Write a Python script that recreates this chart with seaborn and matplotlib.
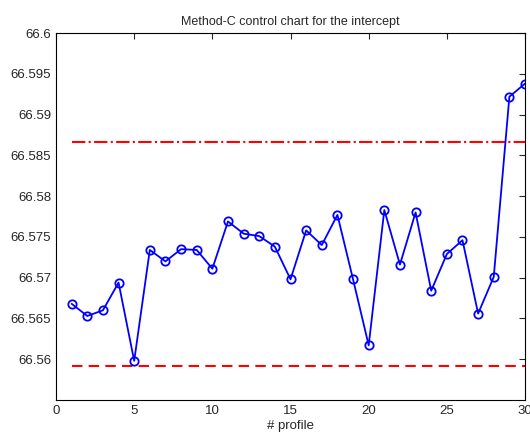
import matplotlib.pyplot as plt
import matplotlib.ticker as mticker
import pandas as pd
import seaborn as sns

sns.set_style("white")
plt.rcParams["font.family"] = ["Liberation Sans", "DejaVu Sans"]
plt.rcParams["font.size"] = 9

profile = list(range(1, 31))
intercept = [66.5668, 66.5653, 66.5660, 66.5694, 66.5598, 66.5734, 66.5720, 66.5735,
             66.5734, 66.5711, 66.5769, 66.5754, 66.5751, 66.5738, 66.5698, 66.5758,
             66.5740, 66.5777, 66.5698, 66.5617, 66.5783, 66.5716, 66.5780, 66.5684,
             66.5729, 66.5746, 66.5656, 66.5701, 66.5922, 66.5938]
ucl = 66.5866
lcl = 66.5592

df = pd.DataFrame({"profile": profile, "intercept": intercept})

fig = plt.figure(figsize=(5.3, 4.41), dpi=100)
ax = fig.add_axes([0.1057, 0.093, 0.8849, 0.832])

ax.plot([1, 30], [ucl, ucl], color="red", linestyle="-.", linewidth=1.5)
ax.plot([1, 30], [lcl, lcl], color="red", linestyle=(0, (5, 3)), linewidth=1.5)
sns.lineplot(data=df, x="profile", y="intercept", ax=ax, color="blue", linewidth=1.3,
             marker="o", markersize=6, markerfacecolor="none", markeredgecolor="blue",
             markeredgewidth=1.3)

ax.set_xlim(0, 30)
ax.set_ylim(66.555, 66.6)
ax.set_xticks(range(0, 31, 5))
ax.set_yticks([66.56 + 0.005 * i for i in range(9)])
ax.yaxis.set_major_formatter(mticker.FuncFormatter(lambda v, p: "%g" % round(v, 4)))
ax.tick_params(direction="in", top=True, right=True, length=4, width=0.8, labelsize=9.5)
for s in ax.spines.values():
    s.set_color("black")
    s.set_linewidth(0.8)
ax.set_xlabel("# profile", fontsize=9.5, labelpad=2)
ax.set_ylabel("")
ax.set_title("Method-C control chart for the intercept", fontsize=9, pad=6)

fig.savefig("out.png", dpi=100)
